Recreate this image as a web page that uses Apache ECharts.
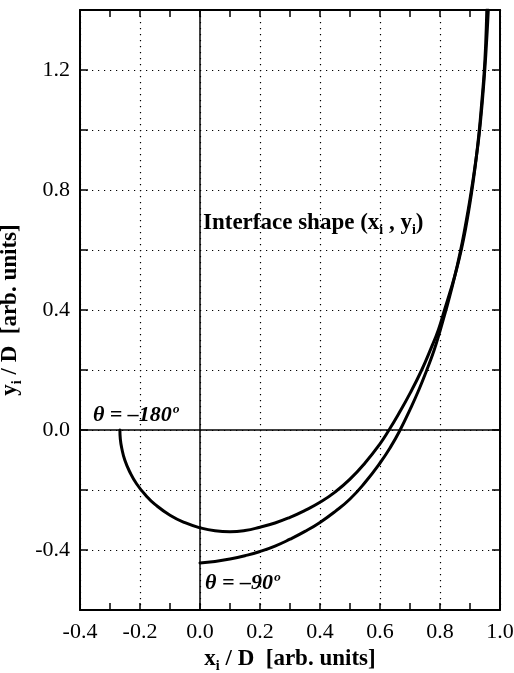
<!DOCTYPE html>
<html>
<head>
<meta charset="utf-8">
<script src="https://cdn.jsdelivr.net/npm/echarts@6/dist/echarts.min.js"></script>
<style>
html,body{margin:0;padding:0;background:#fff;}
#chart{width:514px;height:673px;}
</style>
</head>
<body>
<div id="chart"></div>
<script>
// Curve starting at theta = -180 deg
const curveA_x = [-0.267,-0.2656,-0.261,-0.2507,-0.234,-0.211,-0.179,-0.15,-0.1,-0.05,0.0,0.05,0.1,0.15,0.2,0.25,0.3,0.35,0.4,0.45,0.5,0.55,0.6,0.63,0.66,0.7,0.739,0.77,0.795,0.815,0.835,0.855,0.872,0.886,0.898,0.908,0.92,0.93,0.939,0.947,0.952,0.956];
const curveA_y = [0.0,-0.03,-0.06,-0.1,-0.14,-0.18,-0.22,-0.248,-0.284,-0.309,-0.326,-0.336,-0.339,-0.335,-0.324,-0.31,-0.291,-0.268,-0.241,-0.207,-0.164,-0.11,-0.046,0.0,0.05,0.122,0.2,0.272,0.335,0.4,0.465,0.535,0.605,0.675,0.745,0.81,0.9,0.99,1.09,1.19,1.28,1.4];
// Curve starting at theta = -90 deg
const curveB_x = [0.0,0.05,0.1,0.15,0.2,0.25,0.3,0.35,0.4,0.45,0.5,0.55,0.6,0.635,0.667,0.7,0.73,0.756,0.78,0.8,0.82,0.84,0.858,0.874,0.888,0.9,0.911,0.921,0.93,0.937,0.944,0.95,0.955,0.959,0.961];
const curveB_y = [-0.443,-0.438,-0.43,-0.419,-0.405,-0.387,-0.364,-0.338,-0.308,-0.272,-0.23,-0.175,-0.11,-0.057,0.0,0.068,0.135,0.2,0.265,0.33,0.4,0.475,0.55,0.625,0.7,0.77,0.84,0.91,0.98,1.05,1.13,1.21,1.29,1.36,1.4];
// Axes
const xMin = -0.4, xMax = 1.0, xStep = 0.2;
const yMin = -0.6, yMax = 1.4, yStep = 0.2;
// Annotations (data coordinates of left/middle anchor)
const annotations = [
  {text: '{b|Interface shape (x}{s|i}{b| , y}{s|i}{b|)}', x: 0.01, y: 0.69, italic: false},
  {text: '{b|θ = –180º}', x: -0.357, y: 0.05, italic: true},
  {text: '{b|θ = –90º}', x: 0.017, y: -0.51, italic: true}
];

const FONT = '"Liberation Serif", "DejaVu Serif", serif';
const pairs = (xs, ys) => xs.map((v, i) => [v, ys[i]]);

const chart = echarts.init(document.getElementById('chart'), null, {renderer: 'canvas'});

const richName = {
  b: {fontFamily: FONT, fontWeight: 'bold', fontSize: 23, color: '#000', lineHeight: 28, verticalAlign: 'middle'},
  s: {fontFamily: FONT, fontWeight: 'bold', fontSize: 14, color: '#000', lineHeight: 14, verticalAlign: 'bottom'}
};

const dotted = {color: '#000', width: 1.2, type: [1.2, 4.8]};
const axisLineStyle = {show: true, onZero: false, lineStyle: {color: '#000', width: 2}};

function xAxisDef(pos, withLabels) {
  return {
    type: 'value', position: pos, min: xMin, max: xMax, interval: xStep,
    axisLine: axisLineStyle,
    axisTick: {show: true, inside: true, length: 7, lineStyle: {color: '#000', width: 1.5}},
    minorTick: {show: true, splitNumber: 2, length: 7, lineStyle: {color: '#000', width: 1.5}},
    splitLine: {show: withLabels, lineStyle: dotted},
    axisLabel: {show: withLabels, fontFamily: FONT, fontSize: 22, color: '#000', margin: 11,
      formatter: v => v.toFixed(1)},
    name: withLabels ? '{b|x}{s|i}{b| / D  [arb. units]}' : '',
    nameLocation: 'middle', nameGap: 33,
    nameTextStyle: {rich: richName}
  };
}
function yAxisDef(pos, withLabels) {
  return {
    type: 'value', position: pos, min: yMin, max: yMax, interval: yStep,
    axisLine: axisLineStyle,
    axisTick: {show: true, inside: true, length: 8, lineStyle: {color: '#000', width: 1.5}},
    splitLine: {show: withLabels, lineStyle: dotted},
    axisLabel: {show: withLabels, fontFamily: FONT, fontSize: 22, color: '#000', margin: 10,
      formatter: v => (Math.round(v * 10) % 4 === 0 ? v.toFixed(1) : '')},
    name: withLabels ? '{b|y}{s|i}{b| / D  [arb. units]}' : '',
    nameLocation: 'middle', nameGap: 45, nameRotate: 90,
    nameTextStyle: {rich: richName}
  };
}

const option = {
  animation: false,
  backgroundColor: '#fff',
  grid: {left: 80, right: 14, top: 10, bottom: 63, containLabel: false, outerBoundsMode: 'none'},
  xAxis: [xAxisDef('bottom', true), xAxisDef('top', false)],
  yAxis: [yAxisDef('left', true), yAxisDef('right', false)],
  series: [
    {
      type: 'line', name: 'theta-180', data: pairs(curveA_x, curveA_y),
      xAxisIndex: 0, yAxisIndex: 0,
      smooth: 0.5, showSymbol: false, symbol: 'none',
      lineStyle: {color: '#000', width: 3, join: 'round', cap: 'round'},
      markLine: {
        silent: true, symbol: 'none', label: {show: false},
        lineStyle: {color: '#000', width: 1.5, type: 'solid'},
        data: [{xAxis: 0}, {yAxis: 0}]
      },
      z: 3
    },
    {
      type: 'line', name: 'theta-90', data: pairs(curveB_x, curveB_y),
      xAxisIndex: 0, yAxisIndex: 0,
      smooth: 0.5, showSymbol: false, symbol: 'none',
      lineStyle: {color: '#000', width: 3, join: 'round', cap: 'round'},
      z: 3
    }
  ]
};
chart.setOption(option);

const graphics = annotations.map(a => {
  const p = chart.convertToPixel({xAxisIndex: 0, yAxisIndex: 0}, [a.x, a.y]);
  const rich = {
    b: {fontFamily: FONT, fontWeight: 'bold', fontStyle: a.italic ? 'italic' : 'normal', fontSize: a.italic ? 22 : 23, color: '#000', lineHeight: 28, verticalAlign: 'middle'},
    s: {fontFamily: FONT, fontWeight: 'bold', fontSize: 14, color: '#000', lineHeight: 14, verticalAlign: 'bottom'}
  };
  return {
    type: 'text', x: p[0], y: p[1], z: 10,
    style: {text: a.text, rich: rich, align: 'left', verticalAlign: 'middle'}
  };
});
chart.setOption({graphic: graphics});
</script>
</body>
</html>
